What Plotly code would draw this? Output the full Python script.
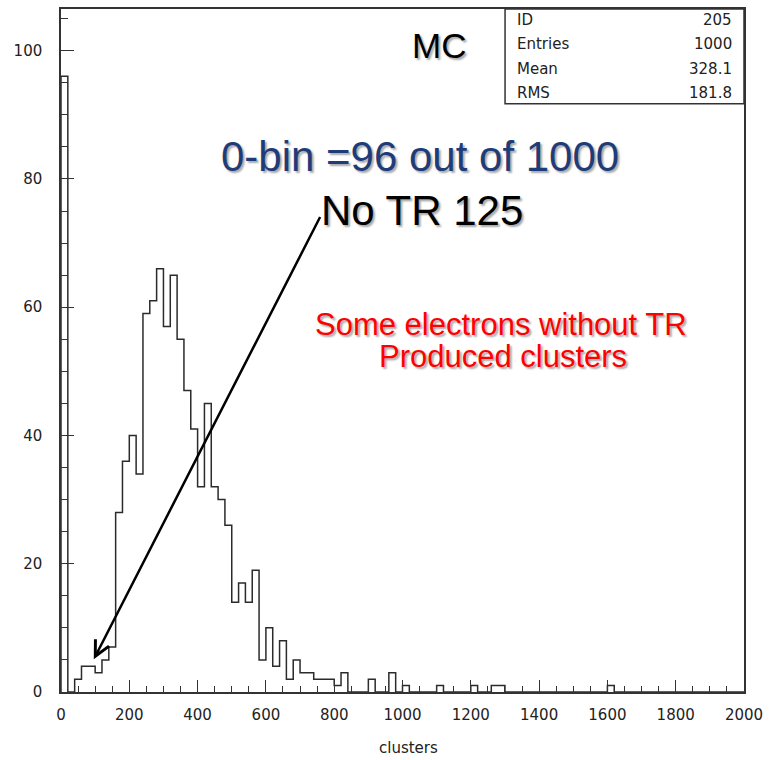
import plotly.graph_objects as go

# Cluster multiplicity histogram: 100 bins of width 20 between 0 and 2000
x_min, x_max = 0, 2000
bin_width = 20
counts = [
    96, 0, 2, 4, 4, 3, 5, 7, 28, 36,
    40, 34, 59, 61, 66, 57, 65, 55, 47, 41,
    32, 45, 32, 30, 26, 14, 17, 14, 19, 5,
    10, 4, 8, 2, 5, 3, 3, 2, 2, 2,
    1, 3, 0, 0, 0, 2, 0, 0, 3, 0,
    1, 0, 0, 0, 0, 1, 0, 0, 0, 0,
    1, 0, 0, 1, 1, 0, 0, 0, 0, 0,
    0, 0, 0, 0, 0, 0, 0, 0, 0, 0,
    1, 0, 0, 0, 0, 0, 0, 0, 0, 0,
    0, 0, 0, 0, 0, 0, 0, 0, 0, 0,
]
y_max = 106.5

# statistics box
stat_names = ["ID", "Entries", "Mean", "RMS"]
stat_values = ["205", "1000", "328.1", "181.8"]

# annotation texts
tag_text = "MC"
zero_bin_text = "0-bin =96 out of 1000"
no_tr_text = "No TR 125"
note_lines = ["Some electrons without TR", "Produced clusters"]
x_title = "clusters"

# page geometry (pixels)
W, H = 770, 760
L, R, T, B = 61, 747, 7, 692


def px(xp):
    return (xp - L) / (R - L)


def py(yp):
    return (B - yp) / (B - T)


# outline of the histogram as a step line
edges = [x_min + i * bin_width for i in range(len(counts) + 1)]
xs = [edges[0]] + edges
ys = [0] + counts + [0]

fig = go.Figure()
fig.add_trace(go.Scatter(
    x=xs, y=ys, mode="lines", line_shape="hv",
    line=dict(color="#2b2b2b", width=1.5),
    hoverinfo="skip", showlegend=False,
))

tick_font = dict(family="DejaVu Sans", size=15, color="#222222")
axis_common = dict(
    showgrid=False, zeroline=False, showline=True, mirror=True,
    linecolor="#333333", linewidth=1.5,
    ticks="inside", tickcolor="#333333", tickwidth=1.2,
    tickfont=tick_font,
)

fig.update_layout(
    width=W, height=H,
    margin=dict(l=L, r=W - R, t=T, b=H - B),
    paper_bgcolor="white", plot_bgcolor="white",
    showlegend=False,
    xaxis=dict(
        range=[x_min, x_max], tick0=0, dtick=200, ticklen=12,
        minor=dict(dtick=50, ticks="inside", ticklen=6,
                   tickcolor="#333333", tickwidth=1.2),
        ticklabelstandoff=8,
        **axis_common,
    ),
    yaxis=dict(
        range=[0, y_max], tick0=0, dtick=20, ticklen=13,
        minor=dict(dtick=5, ticks="inside", ticklen=7,
                   tickcolor="#333333", tickwidth=1.2),
        ticklabelstandoff=14,
        **axis_common,
    ),
)

# statistics box
fig.add_shape(type="rect", xref="paper", yref="paper",
              x0=px(507), x1=px(R), y0=py(102), y1=py(T),
              line=dict(color="#333333", width=1.5), fillcolor="white")
for name, val, yc in zip(stat_names, stat_values, [18, 42, 67, 91]):
    fig.add_annotation(text=name, xref="paper", yref="paper",
                       x=px(517), y=py(yc), xanchor="left", yanchor="middle",
                       showarrow=False, font=tick_font)
    fig.add_annotation(text=val, xref="paper", yref="paper",
                       x=px(737), y=py(yc), xanchor="right", yanchor="middle",
                       showarrow=False, font=tick_font)

shadow = "2px 2px 2px rgba(0,0,0,0.35)"
slide_font = "Liberation Sans, Arial, sans-serif"

fig.add_annotation(text=tag_text, xref="paper", yref="paper",
                   x=px(441), y=py(44), xanchor="center", yanchor="middle",
                   showarrow=False,
                   font=dict(family=slide_font, size=35, color="black", shadow=shadow))
fig.add_annotation(text=zero_bin_text, xref="paper", yref="paper",
                   x=px(422), y=py(155), xanchor="center", yanchor="middle",
                   showarrow=False,
                   font=dict(family=slide_font, size=42, color="#1f3c7a", shadow=shadow))
fig.add_annotation(text=no_tr_text, xref="paper", yref="paper",
                   x=px(424), y=py(209), xanchor="center", yanchor="middle",
                   showarrow=False,
                   font=dict(family=slide_font, size=42, color="black", shadow=shadow))
for line_text, xc, yc in zip(note_lines, [503, 505], [323, 356]):
    fig.add_annotation(text=line_text, xref="paper", yref="paper",
                       x=px(xc), y=py(yc), xanchor="center", yanchor="middle",
                       showarrow=False,
                       font=dict(family=slide_font, size=31, color="#ff0000", shadow=shadow))

# arrow pointing at the low-multiplicity events
fig.add_annotation(text="", x=96, y=5.1, xref="x", yref="y",
                   ax=761, ay=74.3, axref="x", ayref="y",
                   showarrow=True, arrowhead=5, arrowsize=1.2,
                   arrowwidth=2.5, arrowcolor="black", standoff=0)

# axis title
fig.add_annotation(text=x_title, xref="paper", yref="paper",
                   x=px(410), y=py(748), xanchor="center", yanchor="middle",
                   showarrow=False, font=tick_font)

fig.write_html("out.html")
